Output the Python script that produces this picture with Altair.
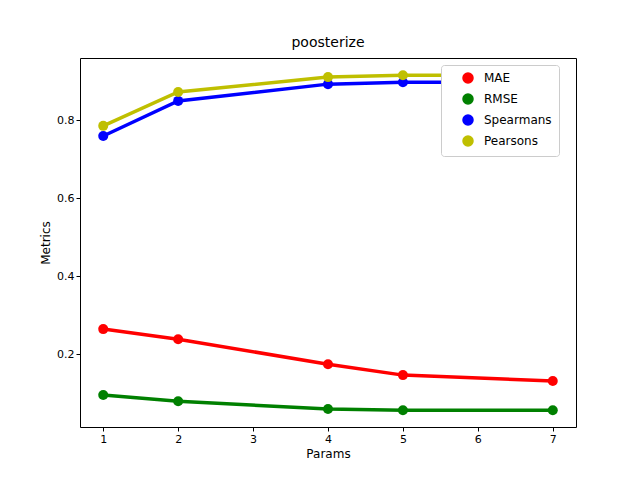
import altair as alt
import pandas as pd

params = [1, 2, 4, 5, 7]
mae = [0.264, 0.238, 0.174, 0.146, 0.131]
rmse = [0.095, 0.079, 0.059, 0.056, 0.056]
spearmans = [0.759, 0.849, 0.892, 0.897, 0.897]
pearsons = [0.785, 0.872, 0.910, 0.915, 0.915]

names = ["MAE", "RMSE", "Spearmans", "Pearsons"]
colors = ["#ff0000", "#008000", "#0000ff", "#bfbf00"]

rows = []
for name, vals in zip(names, [mae, rmse, spearmans, pearsons]):
    for p, v in zip(params, vals):
        rows.append({"Params": p, "Metric": name, "value": v})
df = pd.DataFrame(rows)

color = alt.Color("Metric:N", sort=names,
                  scale=alt.Scale(domain=names, range=colors),
                  legend=alt.Legend(title=None, orient="none", legendX=361, legendY=7,
                                    symbolType="circle", symbolSize=100,
                                    fillColor="white", strokeColor="#cccccc",
                                    padding=7, cornerRadius=3, labelFontSize=12,
                                    labelFont="DejaVu Sans", rowPadding=5,
                                    symbolOffset=14, labelOffset=10))

x = alt.X("Params:Q", title="Params",
          scale=alt.Scale(domain=[0.69, 7.31], nice=False, zero=False),
          axis=alt.Axis(values=[1, 2, 3, 4, 5, 6, 7], grid=False, format="d"))
y = alt.Y("value:Q", title="Metrics",
          scale=alt.Scale(domain=[0.013, 0.959], nice=False, zero=False),
          axis=alt.Axis(values=[0.2, 0.4, 0.6, 0.8], grid=False, format=".1f"))

base = alt.Chart(df).encode(x=x, y=y, color=color)
lines = base.mark_line(strokeWidth=3.5)
points = base.mark_circle(size=100, opacity=1)

chart = (lines + points).properties(
    width=496, height=369,
    title=alt.Title("poosterize", fontSize=14, fontWeight="normal", font="DejaVu Sans", offset=8),
    autosize=alt.AutoSizeParams(type="none"),
    padding={"left": 72, "top": 50, "right": 56, "bottom": 45},
).configure_view(stroke="black").configure_axis(
    domain=False, tickColor="black", labelColor="black", titleColor="black",
    labelFont="DejaVu Sans", titleFont="DejaVu Sans", labelFontSize=11,
    titleFontSize=12, titleFontWeight="normal", tickSize=4,
)

chart.save("out.html", embed_options={"renderer": "svg", "actions": False})
